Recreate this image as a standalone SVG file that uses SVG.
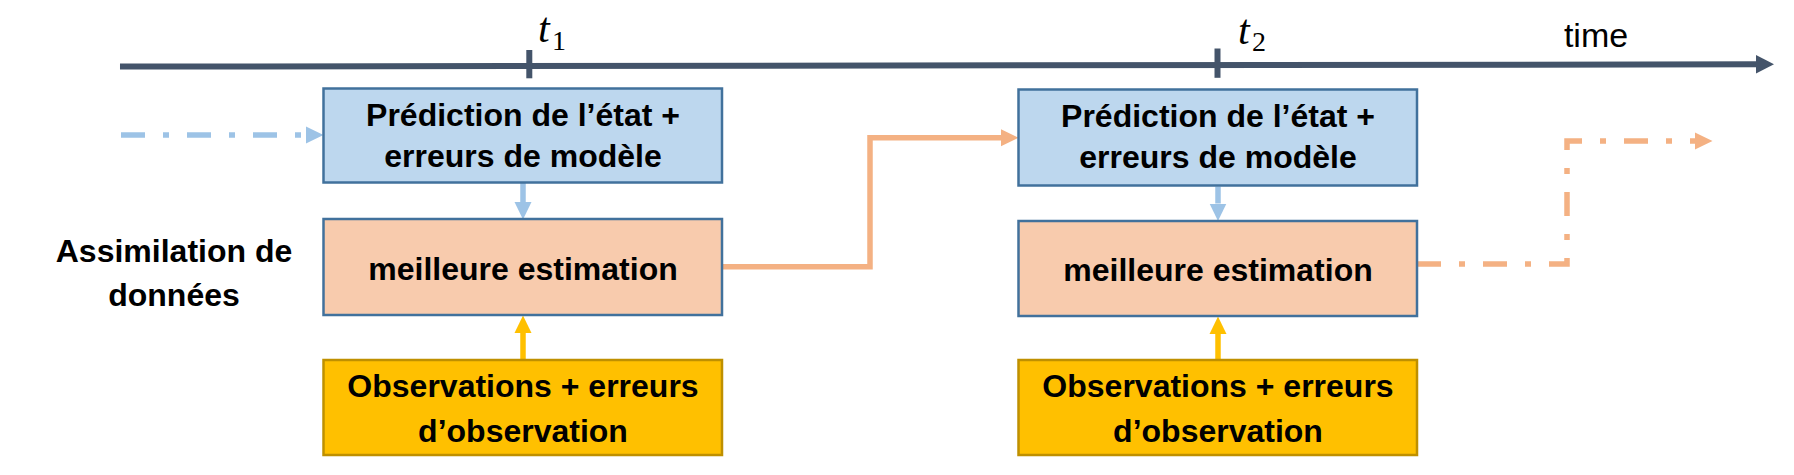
<svg xmlns="http://www.w3.org/2000/svg" width="1794" height="475" viewBox="0 0 1794 475">
<style>
.box{stroke-width:2.5}
.pred{fill:#BDD7EE;stroke:#41719C}
.est{fill:#F8CBAD;stroke:#41719C}
.obs{fill:#FFC000;stroke:#BF9000}
.lbl{font-family:"Liberation Sans",Arial,sans-serif;font-weight:bold;font-size:32px;fill:#000;text-anchor:middle}
.math{font-family:"Liberation Serif","Times New Roman",serif;fill:#000}
.blue{fill:none;stroke:#9DC3E6;stroke-width:5.5}
.orange{fill:none;stroke:#F4B183;stroke-width:5.5;stroke-linejoin:miter}
.yellow{fill:none;stroke:#FFC000;stroke-width:5.5}
.dashdot{stroke-dasharray:24 18 6 18}
</style>
<defs>
<marker id="aBlue" markerUnits="userSpaceOnUse" markerWidth="18" markerHeight="18" refX="0" refY="9" orient="auto" viewBox="0 0 18 18"><path d="M0,0.5 L17.5,9 L0,17.5 z" fill="#9DC3E6"/></marker>
<marker id="aOrange" markerUnits="userSpaceOnUse" markerWidth="18" markerHeight="18" refX="0" refY="9" orient="auto" viewBox="0 0 18 18"><path d="M0,0.5 L17.5,9 L0,17.5 z" fill="#F4B183"/></marker>
<marker id="aYellow" markerUnits="userSpaceOnUse" markerWidth="18" markerHeight="18" refX="0" refY="9" orient="auto" viewBox="0 0 18 18"><path d="M0,0.5 L17.5,9 L0,17.5 z" fill="#FFC000"/></marker>
</defs>

<g id="timeline">
<line x1="120" y1="66.6" x2="1758" y2="64.3" stroke="#44546A" stroke-width="6"/>
<polygon points="1756,55 1774,64.3 1756,73.6" fill="#44546A"/>
<line x1="529.3" y1="50" x2="529.3" y2="78.3" stroke="#44546A" stroke-width="6"/>
<line x1="1217.5" y1="48.5" x2="1217.5" y2="77.8" stroke="#44546A" stroke-width="6"/>
<text class="math" x="538" y="42" font-size="42" font-style="italic">t</text>
<text class="math" x="552" y="49.5" font-size="28">1</text>
<text class="math" x="1238" y="44" font-size="42" font-style="italic">t</text>
<text class="math" x="1252" y="50.5" font-size="28">2</text>
<text x="1596" y="46.7" font-family="'Liberation Sans',Arial,sans-serif" font-size="34" text-anchor="middle" fill="#000">time</text>
</g>

<g id="label-assimilation">
<text class="lbl" x="174" y="262">Assimilation de</text>
<text class="lbl" x="174" y="306">données</text>
</g>

<g id="connectors">
<path class="blue dashdot" d="M121,135 H306" marker-end="url(#aBlue)"/>
<path class="blue" d="M523,183 V202" marker-end="url(#aBlue)"/>
<path class="yellow" d="M523,360 V333" marker-end="url(#aYellow)"/>
<path class="orange" d="M722,266.7 H870 V137.7 H1001" marker-end="url(#aOrange)"/>
<path class="blue" d="M1218,186.5 V203.5" marker-end="url(#aBlue)"/>
<path class="yellow" d="M1218,360 V334" marker-end="url(#aYellow)"/>
<path class="orange dashdot" d="M1417,264 H1567 V141 H1695" marker-end="url(#aOrange)"/>
</g>

<g id="pred1">
<rect class="box pred" x="323.5" y="88.5" width="398.5" height="94"/>
<text class="lbl" x="523" y="126">Prédiction de l’état +</text>
<text class="lbl" x="523" y="167">erreurs de modèle</text>
</g>
<g id="est1">
<rect class="box est" x="323.5" y="219" width="398.5" height="96"/>
<text class="lbl" x="523" y="280">meilleure estimation</text>
</g>
<g id="obs1">
<rect class="box obs" x="323.5" y="360" width="398.5" height="95"/>
<text class="lbl" x="523" y="397">Observations + erreurs</text>
<text class="lbl" x="523" y="442">d’observation</text>
</g>

<g id="pred2">
<rect class="box pred" x="1018.5" y="89.5" width="398.5" height="96"/>
<text class="lbl" x="1218" y="127">Prédiction de l’état +</text>
<text class="lbl" x="1218" y="168">erreurs de modèle</text>
</g>
<g id="est2">
<rect class="box est" x="1018.5" y="221" width="398.5" height="95"/>
<text class="lbl" x="1218" y="280.5">meilleure estimation</text>
</g>
<g id="obs2">
<rect class="box obs" x="1018.5" y="360" width="398.5" height="95"/>
<text class="lbl" x="1218" y="397">Observations + erreurs</text>
<text class="lbl" x="1218" y="442">d’observation</text>
</g>
</svg>
